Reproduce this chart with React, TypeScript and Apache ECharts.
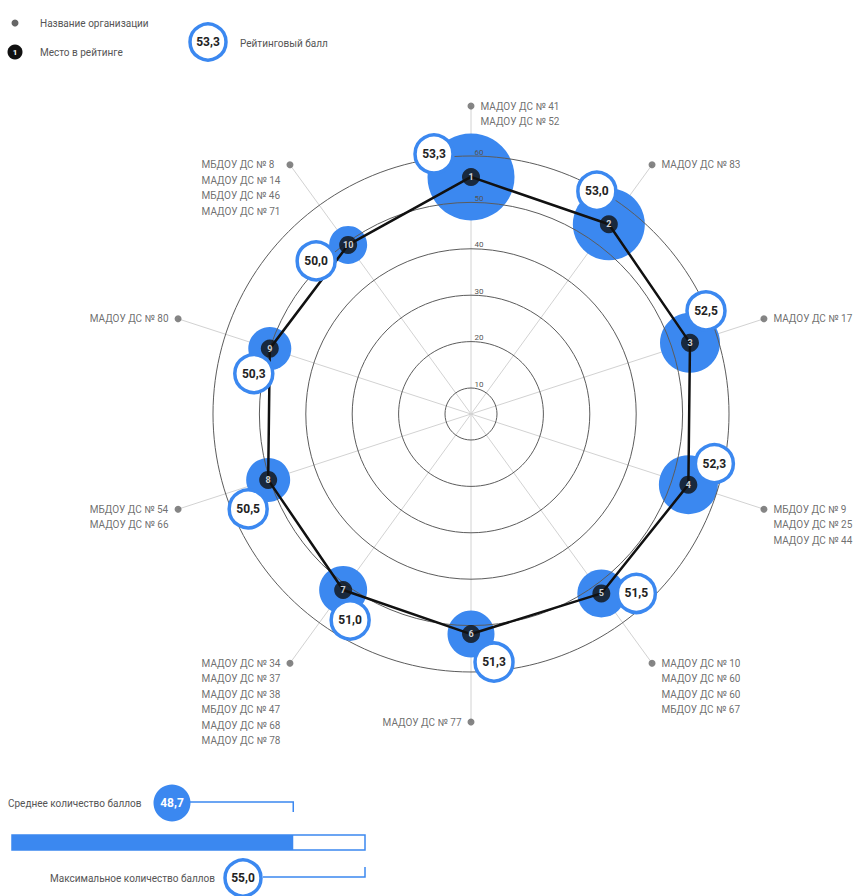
import React, { useEffect, useRef } from "react";
import * as echarts from "echarts";

// ---- data ----
const ranks = [1, 2, 3, 4, 5, 6, 7, 8, 9, 10];
const scores = [53.3, 53.0, 52.5, 52.3, 51.5, 51.3, 51.0, 50.5, 50.3, 50.0];
const bubbleDiameters = [87, 72, 60, 59, 48, 47, 48, 44, 43, 38];
const orgGroups = [
  ["МАДОУ ДС № 41", "МАДОУ ДС № 52"],
  ["МАДОУ ДС № 83"],
  ["МАДОУ ДС № 17"],
  ["МБДОУ ДС № 9", "МАДОУ ДС № 25", "МАДОУ ДС № 44"],
  ["МАДОУ ДС № 10", "МАДОУ ДС № 60", "МАДОУ ДС № 60", "МБДОУ ДС № 67"],
  ["МАДОУ ДС № 77"],
  ["МАДОУ ДС № 34", "МАДОУ ДС № 37", "МАДОУ ДС № 38", "МБДОУ ДС № 47", "МАДОУ ДС № 68", "МАДОУ ДС № 78"],
  ["МБДОУ ДС № 54", "МАДОУ ДС № 66"],
  ["МАДОУ ДС № 80"],
  ["МБДОУ ДС № 8", "МАДОУ ДС № 14", "МБДОУ ДС № 46", "МАДОУ ДС № 71"],
];
const ringMin = 10;
const ringMax = 60;
const ringStep = 10;
const averageScore = 48.7;
const maxScore = 55.0;
const barScaleMin = 24;
const legendTexts = ["Название организации", "Место в рейтинге", "Рейтинговый балл"];
const averageLabel = "Среднее количество баллов";
const maxLabel = "Максимальное количество баллов";

// ---- layout / style ----
const BLUE = "#3b88f0";
const FONT = "Roboto";
const CENTER = [471, 414];
const badgeOffsets = [
  [-37, -23], [-12, -33], [16, -32], [26, -21], [35, 0],
  [23, 28], [7, 30], [-20, 29], [-16, 25], [-32, 16],
];

const fmt = (v: number) => v.toFixed(1).replace(".", ",");

export default function App() {
  const ref = useRef<HTMLDivElement>(null);

  useEffect(() => {
    document.body.style.margin = "0";
    const chart = echarts.init(ref.current!, null, { renderer: "svg" });
    const n = scores.length;
    const angleOf = (i: number) => (i * 360) / n;

    const canvas = document.createElement("canvas");
    const ctx = canvas.getContext("2d")!;
    const nameSize = 10;
    const lineH = 15.5;
    ctx.font = `${nameSize}px ${FONT}`;

    const pts = scores.map((v, i) => [v, angleOf(i)]);
    const linePts = [...pts, [scores[0], 360]];

    const labelData = orgGroups.map((names, i) => {
      const a = angleOf(i);
      const right = a < 180;
      const w = Math.max(...names.map((s) => ctx.measureText(s).width));
      return {
        value: [1, a],
        label: {
          show: true,
          position: right ? "right" : "left",
          distance: 6,
          align: "left",
          verticalAlign: "top",
          offset: right ? [0, -lineH / 2] : [-w, -lineH / 2],
          formatter: names.join("\n"),
          fontSize: nameSize,
          lineHeight: lineH,
          color: "#4a4a4a",
          fontFamily: FONT,
        },
      };
    });

    const option: any = {
      animation: false,
      textStyle: { fontFamily: FONT },
      polar: [
        { center: CENTER, radius: [26, 258] },
        { center: CENTER, radius: 308 },
        { center: CENTER, radius: 260 },
      ],
      angleAxis: [
        { polarIndex: 0, type: "value", min: 0, max: 360, show: false },
        {
          polarIndex: 1, type: "value", min: 0, max: 360, interval: 36, startAngle: 90,
          axisLine: { show: false }, axisTick: { show: false }, axisLabel: { show: false },
          splitLine: { show: true, lineStyle: { color: "#d2d2d2", width: 1 } },
        },
        { polarIndex: 2, type: "value", min: 0, max: 360, show: false },
      ],
      radiusAxis: [
        {
          polarIndex: 0, type: "value", min: ringMin, max: ringMax, interval: ringStep, z: 3,
          axisLine: { show: false }, axisTick: { show: false },
          axisLabel: {
            show: true, fontSize: 8, color: "#555", margin: -8,
            align: "center", verticalAlign: "bottom", fontFamily: FONT,
          },
          splitLine: { show: true, lineStyle: { color: "#5c5c5c", width: 1 } },
        },
        { polarIndex: 1, type: "value", min: 0, max: 1, show: false },
        { polarIndex: 2, type: "value", min: 25.4, max: 56, show: false },
      ],
      xAxis: { type: "value", min: barScaleMin, max: maxScore, show: false, gridIndex: 0 },
      yAxis: { type: "category", data: ["Баллы"], show: false, gridIndex: 0 },
      grid: { left: 12, top: 835, width: 353, height: 15 },
      series: [
        {
          type: "scatter", coordinateSystem: "polar", polarIndex: 1, z: 1,
          symbol: "circle", symbolSize: 7, itemStyle: { color: "#666" },
          data: labelData,
        },
        {
          type: "scatter", coordinateSystem: "polar", polarIndex: 2, z: 2,
          symbol: "circle",
          data: pts.map((p, i) => ({ value: p, symbolSize: bubbleDiameters[i] })),
          itemStyle: { color: BLUE, opacity: 1 },
        },
        {
          type: "line", coordinateSystem: "polar", polarIndex: 2, z: 4,
          data: linePts, symbol: "none",
          lineStyle: { color: "#111", width: 2.5 },
        },
        {
          type: "scatter", coordinateSystem: "polar", polarIndex: 2, z: 5,
          symbol: "circle", symbolSize: 18, itemStyle: { color: "#111" },
          data: pts.map((p) => ({ value: p })),
          label: {
            show: true, position: "inside", color: "#fff", fontSize: 9, fontWeight: "bold",
            formatter: (p: any) => String(ranks[p.dataIndex]),
          },
        },
        {
          type: "scatter", coordinateSystem: "polar", polarIndex: 2, z: 6,
          symbol: "circle", symbolSize: 38,
          itemStyle: { color: "#fff", borderColor: BLUE, borderWidth: 3.5, opacity: 1 },
          data: pts.map((p, i) => ({ value: p, symbolOffset: badgeOffsets[i] })),
          label: {
            show: true, position: "inside", color: "#222", fontSize: 12, fontWeight: "bold",
            formatter: (p: any) => fmt(scores[p.dataIndex]),
          },
        },
        {
          type: "bar", xAxisIndex: 0, yAxisIndex: 0, data: [averageScore], barWidth: 15,
          itemStyle: { color: BLUE },
          showBackground: true,
          backgroundStyle: { color: "#fff", borderColor: BLUE, borderWidth: 1.5 },
        },
      ],
    };
    chart.setOption(option);

    const xAvg = chart.convertToPixel({ xAxisIndex: 0 }, averageScore) as number;
    const xMax = chart.convertToPixel({ xAxisIndex: 0 }, maxScore) as number;
    const txt = (x: number, y: number, text: string, extra: any = {}) => ({
      type: "text", x, y,
      style: { text, fontSize: 10, fill: "#555", verticalAlign: "middle", fontFamily: FONT, ...extra },
    });
    chart.setOption({
      graphic: [
        { type: "circle", shape: { cx: 15, cy: 23, r: 3.5 }, style: { fill: "#666" } },
        txt(40, 23, legendTexts[0]),
        { type: "circle", shape: { cx: 15, cy: 52, r: 7.5 }, style: { fill: "#111" } },
        txt(15, 52, String(ranks[0]), { fill: "#fff", fontSize: 8, fontWeight: "bold", align: "center" }),
        txt(40, 52, legendTexts[1]),
        { type: "circle", shape: { cx: 208, cy: 42, r: 18 }, style: { fill: "#fff", stroke: BLUE, lineWidth: 3.5 } },
        txt(208, 42, fmt(scores[0]), { fill: "#222", fontSize: 12, fontWeight: "bold", align: "center" }),
        txt(240, 43, legendTexts[2]),

        txt(8, 803, averageLabel),
        { type: "circle", shape: { cx: 172, cy: 803, r: 18.5 }, style: { fill: BLUE } },
        txt(172, 803, fmt(averageScore), { fill: "#fff", fontSize: 12, fontWeight: "bold", align: "center" }),
        { type: "polyline", shape: { points: [[190, 802], [xAvg, 802], [xAvg, 812]] }, style: { stroke: BLUE, lineWidth: 1.5, fill: null } },

        txt(50, 878, maxLabel),
        { type: "circle", shape: { cx: 243, cy: 878, r: 18 }, style: { fill: "#fff", stroke: BLUE, lineWidth: 3.5 } },
        txt(243, 878, fmt(maxScore), { fill: "#222", fontSize: 12, fontWeight: "bold", align: "center" }),
        { type: "polyline", shape: { points: [[263, 877], [xMax, 877], [xMax, 867]] }, style: { stroke: BLUE, lineWidth: 1.5, fill: null } },
      ],
    });

    return () => chart.dispose();
  }, []);

  return <div ref={ref} style={{ width: 859, height: 896 }} />;
}
